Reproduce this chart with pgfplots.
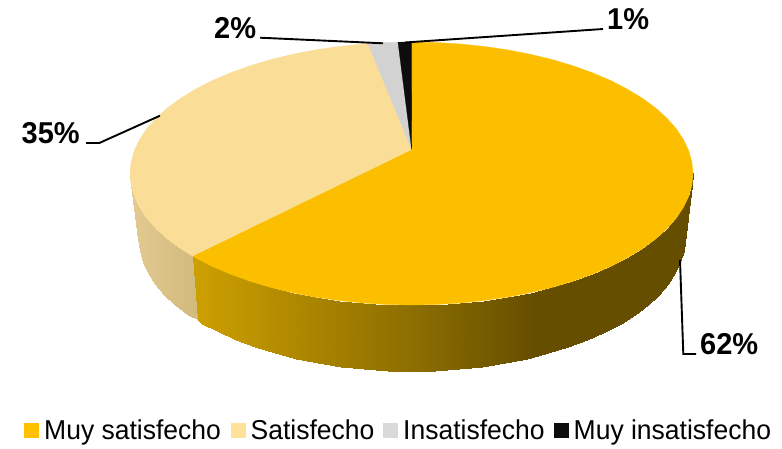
\documentclass[border=0pt]{standalone}
\usepackage{fontspec}
\setmainfont{Liberation Sans}
\usepackage{graphicx}
\usepackage{pgfplots}
\pgfplotsset{compat=1.18}
\definecolor{piegold}{RGB}{252,191,0}
\definecolor{pielight}{RGB}{250,221,150}
\definecolor{piegrey}{RGB}{210,210,210}
\definecolor{pieblack}{RGB}{13,13,13}
\definecolor{keygold}{RGB}{255,192,0}
\definecolor{keylight}{RGB}{255,225,153}
\definecolor{keygrey}{RGB}{217,217,217}
\pgfplotsset{
  colormap={goldwall}{rgb255(130pt)=(204,159,0) rgb255(198pt)=(204,159,0) rgb255(420pt)=(138,108,0) rgb255(535pt)=(101,78,0) rgb255(693pt)=(101,78,0)},
  colormap={lightwall}{rgb255(130pt)=(226,202,145) rgb255(198pt)=(210,186,125) rgb255(693pt)=(210,186,125)},
}
\newcommand{\pct}[1]{\scalebox{1}[1.04]{\fontsize{29}{29}\selectfont\bfseries #1}}
\newcommand{\key}[1]{\scalebox{1}[1.03]{\fontsize{26.5}{26.5}\selectfont #1}}

\begin{document}
\begin{tikzpicture}
\useasboundingbox (0,0) rectangle (782pt,449pt);
\begin{axis}[scale only axis, width=782pt, height=449pt, xmin=0, xmax=782, ymin=0, ymax=449,
    y dir=reverse, hide axis, clip=false, point meta min=130, point meta max=693,
    text=black]

% side wall, light slice
\addplot[surf, shader=interp, colormap name=lightwall, mesh/rows=2, mesh/cols=9, point meta=x] table {
x y
130.0 173.5
131.1 185.0
134.3 196.3
139.6 207.5
147.0 218.5
156.4 229.1
167.7 239.3
180.9 248.9
192.5 256.0
138.5 239.0
139.5 250.5
142.6 261.9
147.8 273.2
155.0 284.1
164.1 294.8
175.1 305.0
187.9 314.7
198.5 320.0
};
% side wall, gold slice
\addplot[surf, shader=interp, colormap name=goldwall, mesh/rows=2, mesh/cols=30, point meta=x] table {
x y
192.5 256.0
195.9 258.0
212.4 266.5
230.5 274.2
250.0 281.2
270.7 287.4
292.5 292.7
315.2 297.1
338.6 300.5
362.6 303.0
387.0 304.5
411.5 305.0
436.0 304.5
460.4 303.0
484.4 300.5
507.8 297.1
530.5 292.7
552.3 287.4
573.0 281.2
592.5 274.2
610.6 266.5
627.1 258.0
642.1 248.9
655.3 239.3
666.6 229.1
676.0 218.5
683.4 207.5
688.7 196.3
691.9 185.0
693.0 173.5
198.5 320.0
202.4 323.8
218.5 332.3
236.0 340.1
254.9 347.1
275.0 353.3
296.1 358.6
318.1 363.0
340.8 366.5
364.1 369.0
387.7 370.5
411.5 371.0
435.3 370.5
458.9 369.0
482.2 366.5
504.9 363.0
526.9 358.6
548.0 353.3
568.1 347.1
587.0 340.1
604.5 332.3
620.6 323.8
635.1 314.7
647.9 305.0
658.9 294.8
668.0 284.1
675.2 273.2
680.4 261.9
683.5 250.5
684.5 239.0
};

% top face
\addplot[draw=piegold, line width=0.3pt, fill=piegold] coordinates {
(411.7,149.5)(411.5,42.0)(436.0,42.5)(460.4,44.0)(484.4,46.5)(507.8,49.9)(530.5,54.3)(552.3,59.6)
(573.0,65.8)(592.5,72.8)(610.6,80.5)(627.1,89.0)(642.1,98.1)(655.3,107.7)(666.6,117.9)(676.0,128.5)
(683.4,139.5)(688.7,150.7)(691.9,162.0)(693.0,173.5)(691.9,185.0)(688.7,196.3)(683.4,207.5)(676.0,218.5)
(666.6,229.1)(655.3,239.3)(642.1,248.9)(627.1,258.0)(610.6,266.5)(592.5,274.2)(573.0,281.2)(552.3,287.4)
(530.5,292.7)(507.8,297.1)(484.4,300.5)(460.4,303.0)(436.0,304.5)(411.5,305.0)(387.0,304.5)(362.6,303.0)
(338.6,300.5)(315.2,297.1)(292.5,292.7)(270.7,287.4)(250.0,281.2)(230.5,274.2)(212.4,266.5)(195.9,258.0)
(192.5,256.0)} --cycle;
\addplot[draw=pielight, line width=0.3pt, fill=pielight] coordinates {
(411.7,149.5)(192.5,256.0)(180.9,248.9)(167.7,239.3)(156.4,229.1)(147.0,218.5)(139.6,207.5)(134.3,196.3)
(131.1,185.0)(130.0,173.5)(131.1,162.0)(134.3,150.7)(139.6,139.5)(147.0,128.5)(156.4,117.9)(167.7,107.7)
(180.9,98.1)(195.9,89.0)(212.4,80.5)(230.5,72.8)(250.0,65.8)(270.7,59.6)(292.5,54.3)(315.2,49.9)
(338.6,46.5)(362.6,44.0)(368.0,43.5)} --cycle;
\addplot[draw=piegrey, line width=0.3pt, fill=piegrey] coordinates {
(411.7,149.5)(368.0,43.5)(387.0,42.5)(398.0,42.2)} --cycle;
\addplot[draw=pieblack, line width=0.3pt, fill=pieblack] coordinates {
(411.7,149.5)(398.0,42.2)(411.5,42.0)} --cycle;

% leader lines
\addplot[black, line width=1.9pt] coordinates {(405,42.5)(603,29)};
\addplot[black, line width=1.9pt] coordinates {(260,37.7)(383,43.3)};
\addplot[black, line width=1.9pt] coordinates {(86,143)(99.3,143)(160,115.7)};
\addplot[black, line width=1.9pt] coordinates {(680,260)(683.3,354)(696,354)};

% legend keys
\addplot[only marks, mark=square*, mark size=7pt, color=keygold] coordinates {(31,429.7)};
\addplot[only marks, mark=square*, mark size=7pt, color=keylight] coordinates {(238,429.7)};
\addplot[only marks, mark=square*, mark size=7pt, color=keygrey] coordinates {(390,429.7)};
\addplot[only marks, mark=square*, mark size=7pt, color=pieblack] coordinates {(561,429.7)};

\node[anchor=base west, inner sep=0pt] at (axis cs:21.5,143.3) {\pct{35\%}};
\node[anchor=base west, inner sep=0pt] at (axis cs:214,38.3) {\pct{2\%}};
\node[anchor=base west, inner sep=0pt] at (axis cs:607,29.5) {\pct{1\%}};
\node[anchor=base west, inner sep=0pt] at (axis cs:700,354.5) {\pct{62\%}};
\node[anchor=base west, inner sep=0pt] at (axis cs:44,439.5) {\key{Muy satisfecho}};
\node[anchor=base west, inner sep=0pt] at (axis cs:250.5,439.5) {\key{Satisfecho}};
\node[anchor=base west, inner sep=0pt] at (axis cs:403,439.5) {\key{Insatisfecho}};
\node[anchor=base west, inner sep=0pt] at (axis cs:573.5,439.5) {\key{Muy insatisfecho}};
\end{axis}
\end{tikzpicture}
\end{document}
